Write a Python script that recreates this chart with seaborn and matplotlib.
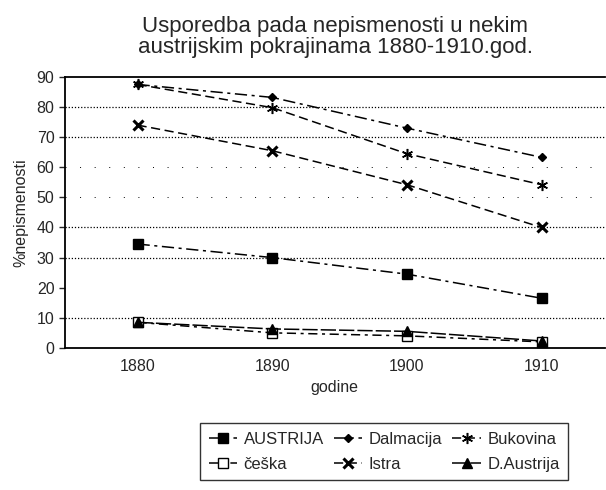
import matplotlib
matplotlib.use('Agg')
import matplotlib.pyplot as plt
import seaborn as sns
import pandas as pd

# podaci procitani s grafikona
godine = [1880, 1890, 1900, 1910]
austrija = [34.5, 30, 24.5, 16.5]
dalmacija = [87.5, 83.2, 73, 63.3]
bukovina = [87.5, 79.8, 64.5, 54.2]
ceska = [8.5, 5, 4, 2]
istra = [74, 65.5, 54.2, 40]
d_austrija = [8.5, 6.3, 5.5, 2.3]

serije = {
    'AUSTRIJA': austrija,
    'Dalmacija': dalmacija,
    'Bukovina': bukovina,
    'češka': ceska,
    'Istra': istra,
    'D.Austrija': d_austrija,
}

# stil linija i markera za svaku pokrajinu
stilovi = {
    'AUSTRIJA': dict(marker='s', ls=(0, (8, 3, 2, 3)), ms=6.5, mfc='black', mew=1.0),
    'Dalmacija': dict(marker='D', ls=(0, (8, 3, 2, 3)), ms=4, mfc='black', mew=1.0),
    'Bukovina': dict(marker=(6, 2, 0), ls=(0, (6, 3)), ms=8, mfc='black', mew=1.1),
    'češka': dict(marker='s', ls=(0, (6, 3, 2, 3)), ms=6.5, mfc='white', mew=1.0),
    'Istra': dict(marker='x', ls=(0, (6, 3)), ms=7, mfc='black', mew=2.2),
    'D.Austrija': dict(marker='^', ls=(0, (10, 2)), ms=7, mfc='black', mew=1.0),
}

sns.set_style('white')
plt.rcParams['font.family'] = ['Liberation Sans', 'DejaVu Sans']

fig = plt.figure(figsize=(6.06, 4.9), dpi=100)
ax = fig.add_axes([0.107, 0.29, 0.891, 0.553])

handles = {}
for naziv, vrijednosti in serije.items():
    df = pd.DataFrame({'godina': godine, 'posto': vrijednosti})
    s = stilovi[naziv]
    sns.lineplot(data=df, x='godina', y='posto', ax=ax, color='black',
                 linewidth=1.1, linestyle=s['ls'], marker=s['marker'],
                 markersize=s['ms'], markerfacecolor=s['mfc'],
                 markeredgecolor='black', markeredgewidth=s['mew'])
    handles[naziv] = ax.lines[-1]

# tockaste mreze (na skeniranom originalu nisu sve vidljive)
for g in [10, 30, 40, 70, 80]:
    ax.axhline(g, color='black', lw=0.9, ls=(0, (1, 1.5)), zorder=0)
for g in [50, 60]:
    ax.axhline(g, color='black', lw=0.7, ls=(0, (1, 14)), zorder=0)

ax.set_xlim(1874.6, 1914.7)
ax.set_ylim(0, 90)
ax.set_xticks(godine)
ax.set_yticks(range(0, 91, 10))
ax.tick_params(axis='y', length=4, width=1, direction='out', left=True, labelsize=11.5)
ax.tick_params(axis='x', length=0, labelsize=11.5, pad=8)
ax.spines['right'].set_visible(False)
for sp in ['left', 'bottom', 'top']:
    ax.spines[sp].set_color('black')
    ax.spines[sp].set_linewidth(1.3)
ax.set_xlabel('godine', fontsize=11.5, labelpad=4)
ax.set_ylabel('%nepismenosti', fontsize=11.5, labelpad=6)

fig.text(0.553, 0.968, 'Usporedba pada nepismenosti u nekim\naustrijskim pokrajinama 1880-1910.god.',
         ha='center', va='top', fontsize=16, linespacing=1.0)

redoslijed = ['AUSTRIJA', 'češka', 'Dalmacija', 'Istra', 'Bukovina', 'D.Austrija']
leg = fig.legend([handles[n] for n in redoslijed], redoslijed, ncol=3,
                 loc='center', bbox_to_anchor=(0.634, 0.078), frameon=True,
                 fancybox=False, edgecolor='black', fontsize=12,
                 handlelength=1.7, handletextpad=0.4, columnspacing=0.6,
                 borderpad=0.5, labelspacing=0.6)
leg.get_frame().set_linewidth(1.0)

fig.savefig('out.png', dpi=100)
